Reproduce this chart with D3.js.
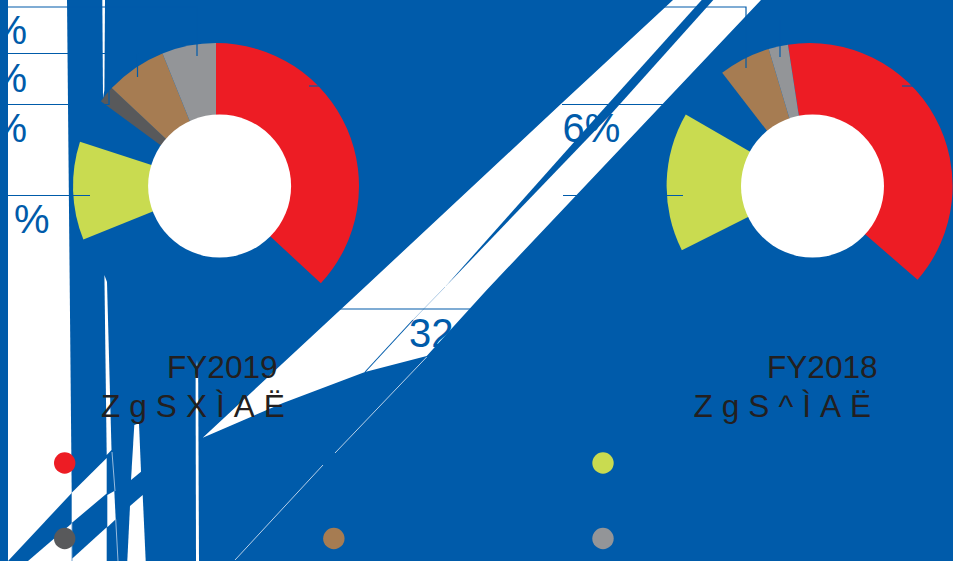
<!DOCTYPE html>
<html>
<head>
<meta charset="utf-8">
<script src="https://cdnjs.cloudflare.com/ajax/libs/d3/7.8.5/d3.min.js"></script>
<style>
html,body{margin:0;padding:0;background:#005BAA;overflow:hidden}
svg{display:block}
text{font-family:"Liberation Sans",Arial,sans-serif}
</style>
</head>
<body>
<div id="chart"></div>
<script>
// Slices, in drawing order; "gap" slices are the empty parts of each ring
const categories = ["Red", "gap1", "Green", "gap2", "Dark", "Brown", "Grey"];
const fy2019Values = [36.9, 32.0, 11.1, 5.1, 1.9, 6.9, 6.1];
const fy2018Values = [38.8, 31.2, 15.75, 6.2, 0, 5.85, 2.2];
const sliceColors = ["#ED1C24", "none", "#C9DB50", "none", "#58595B", "#A67C52", "#939598"];
const yearLabels = ["FY2019", "FY2018"];
const subLabels = ["ZgSXÌAË", "ZgS^ÌAË"];
const legendColors = ["#ED1C24", "#C9DB50", "#58595B", "#A67C52", "#939598"];
const valueLabels = ["%", "%", "%", "%", "6%", "32"];

// Canvas artefacts of the reference (page geometry, not data)
const whiteShapes = [
  [[8,0],[67,0],[71.7,493],[8,561]],
  [[71.7,492.7],[106.7,458],[106.7,493.5],[71.7,523]],
  [[28,561],[71.7,523.5],[71.7,561]],
  [[72.3,558.5],[106.7,527.3],[106.7,561],[72.3,561]],
  [[107.3,495],[114.3,491],[115.7,519.3],[107.3,527.3]],
  [[104.4,275],[107,282],[111.5,450],[106.7,455]],
  [[102.3,0],[105,0],[104.4,90],[103,98]],
  [[134.3,425],[139,423.3],[141,471.7],[131,480]],
  [[130,506],[142.7,495],[145.7,561],[127.3,561]],
  [[197,360],[198.2,378],[199,561],[196,561],[195.6,378]],
  [[673,0],[761,0],[486.7,290],[426.7,356],[365,372],[283,403],[202.7,437.7],[361.7,290],[561.7,103.3]]
];
const blueShapes = [
  [[701.7,0],[713.3,0],[612,113],[445,287],[600,113]]
];
const hairlines = [
  {pts:[[445,287],[413,320]], w:0.5, c:"#5f97cb"},
  {pts:[[413,320],[365,372]], w:1.1, c:"#005BAA"},
  {pts:[[426.7,357],[335,453]], w:0.8, c:"#e4eef7"},
  {pts:[[323,465],[235,560]], w:0.8, c:"#e4eef7"},
  {pts:[[112,452],[115,491]], w:0.8, c:"#bcd3ea"},
  {pts:[[115.7,519],[118,561]], w:0.8, c:"#bcd3ea"},
  {pts:[[71.8,523],[71.8,561]], w:0.8, c:"#bcd3ea"}
];
const leaders = [
  [[8,7],[197,7],[197,56]],
  [[8,53.5],[137.5,53.5],[137.5,77]],
  [[8,104.5],[109,104.5],[109,91]],
  [[8,195.5],[90,195.5]],
  [[309,86],[320,86]],
  [[660,7],[746,7],[746,68]],
  [[780,20],[780,57]],
  [[562,104.5],[664,104.5]],
  [[563,195.5],[683,195.5]],
  [[902,86],[913,86]],
  [[340,309],[470,309]]
];

const W = 953, H = 561, BLUE = "#005BAA";
const svg = d3.select("#chart").append("svg").attr("width", W).attr("height", H);
svg.append("rect").attr("width", W).attr("height", H).attr("fill", BLUE);

const line = d3.line();
svg.append("g").selectAll("path").data(whiteShapes).join("path")
  .attr("d", d => line(d) + "Z").attr("fill", "#fff");
svg.append("g").selectAll("path").data(blueShapes).join("path")
  .attr("d", d => line(d) + "Z").attr("fill", BLUE);
svg.append("g").selectAll("path").data(hairlines).join("path")
  .attr("d", d => line(d.pts)).attr("fill", "none")
  .attr("stroke", d => d.c).attr("stroke-width", d => d.w);

// Donuts
const R = 143, HOLE = 71.5;
const arc = d3.arc().innerRadius(0).outerRadius(R);
function donut(values, cx, cy, holeX, startDeg) {
  const a0 = startDeg * Math.PI / 180;
  const pie = d3.pie().sort(null).startAngle(a0).endAngle(a0 + 2 * Math.PI);
  const g = svg.append("g").attr("transform", `translate(${cx},${cy})`);
  g.selectAll("path").data(pie(values)).join("path")
    .attr("d", arc).attr("fill", (d, i) => sliceColors[i]);
  svg.append("circle").attr("cx", holeX).attr("cy", cy).attr("r", HOLE).attr("fill", "#fff");
}
donut(fy2019Values, 216, 186, 219.6, 0);
donut(fy2018Values, 809.6, 186, 812.5, -8.7);

// Leader lines
svg.append("g").selectAll("path").data(leaders).join("path")
  .attr("d", d => line(d)).attr("fill", "none")
  .attr("stroke", BLUE).attr("stroke-width", 1.2);

// Value labels: blue text, visible only over the white shapes
const labelPos = [[27,44,"end"],[27,92,"end"],[27,142,"end"],[49.5,232.5,"end"],[562.5,142,"start"],[409,346.5,"start"]];
svg.append("g").selectAll("text").data(valueLabels).join("text")
  .attr("x", (d, i) => labelPos[i][0]).attr("y", (d, i) => labelPos[i][1])
  .attr("text-anchor", (d, i) => labelPos[i][2])
  .attr("font-size", 40).attr("fill", BLUE).text(d => d);

// Year labels
const yearX = [167, 767], subX = [101, 693.5];
svg.append("g").selectAll("text").data(yearLabels).join("text")
  .attr("x", (d, i) => yearX[i]).attr("y", 377.5)
  .attr("font-size", 31.6).attr("fill", "#231F20").text(d => d);
svg.append("g").selectAll("text").data(subLabels).join("text")
  .attr("x", (d, i) => subX[i]).attr("y", 417)
  .attr("font-size", 31.6).attr("letter-spacing", 9).attr("fill", "#231F20").text(d => d);

// Legend dots
const legendX = d3.scalePoint().domain([0, 1, 2]).range([64.7, 603]);
const legendY = d3.scalePoint().domain([0, 1]).range([463, 538.5]);
const legendCells = [[0,0],[2,0],[0,1],[1,1],[2,1]];
svg.append("g").selectAll("circle").data(legendColors).join("circle")
  .attr("cx", (d, i) => legendX(legendCells[i][0]))
  .attr("cy", (d, i) => legendY(legendCells[i][1]))
  .attr("r", 10.7).attr("fill", d => d);
</script>
</body>
</html>
